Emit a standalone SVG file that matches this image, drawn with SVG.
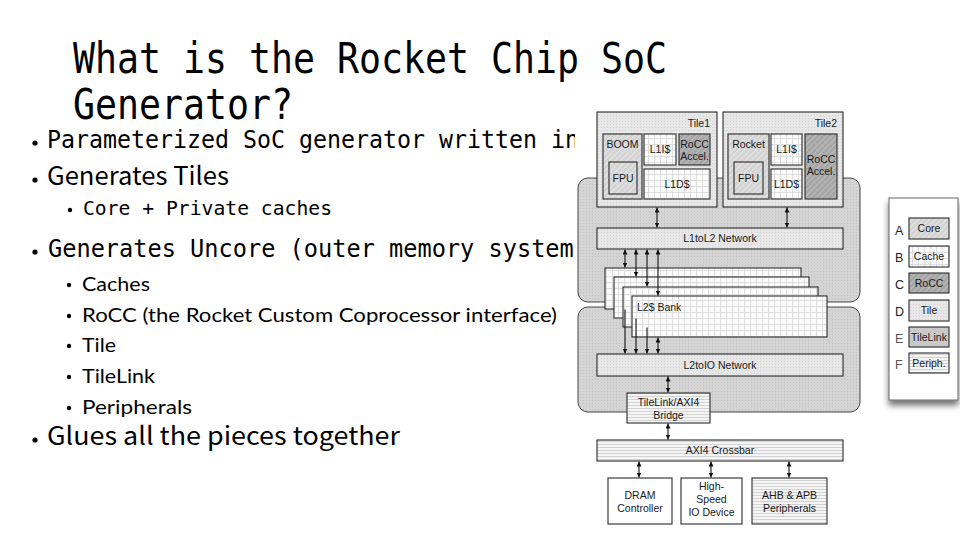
<svg xmlns="http://www.w3.org/2000/svg" width="960" height="540" viewBox="0 0 960 540">
<defs>
<style>
.title{font-family:"DejaVu Sans Mono","Liberation Mono",monospace;font-size:42px;fill:#000}
.mono{font-family:"DejaVu Sans Mono","Liberation Mono",monospace;fill:#000}
.goth{font-family:"Noto Sans CJK JP","Noto Sans",sans-serif;fill:#000}
.cal{font-family:"Lato","Open Sans",sans-serif;font-size:20px;fill:#000}
.dot{fill:#000}
.d{font-family:"Liberation Sans",Arial,sans-serif;font-size:10.5px;fill:#1a1a1a;text-anchor:middle}
.box{stroke:#2a2a2a;stroke-width:1.1}
.conn line{stroke:#111;stroke-width:1.1;fill:none}
.lg{font-family:"Liberation Sans",Arial,sans-serif;font-size:12.5px;fill:#222}
</style>
<pattern id="pCore" width="4" height="4" patternUnits="userSpaceOnUse" patternTransform="rotate(45)"><rect width="4" height="4" fill="#d4d4d4"/><line x1="0" y1="0" x2="0" y2="4" stroke="#efefef" stroke-width="1.4"/></pattern>
<pattern id="pRocc" width="4" height="4" patternUnits="userSpaceOnUse" patternTransform="rotate(45)"><rect width="4" height="4" fill="#a6a6a6"/><line x1="0" y1="0" x2="0" y2="4" stroke="#c8c8c8" stroke-width="1.4"/></pattern>
<pattern id="pCache" width="6" height="6" patternUnits="userSpaceOnUse"><rect width="6" height="6" fill="#fbfbfb"/><path d="M0 0.5H6M0.5 0V6" stroke="#dedede" stroke-width="1"/></pattern>
<pattern id="pTile" width="3" height="3" patternUnits="userSpaceOnUse"><rect width="3" height="3" fill="#e7e7e7"/><rect x="1" y="1" width="1" height="1" fill="#d3d3d3"/></pattern>
<pattern id="pUnc" width="3" height="3" patternUnits="userSpaceOnUse"><rect width="3" height="3" fill="#d4d4d4"/><rect x="1" y="1" width="1" height="1" fill="#c2c2c2"/></pattern>
<pattern id="pStripe" width="3" height="3" patternUnits="userSpaceOnUse"><rect width="3" height="3" fill="#f5f5f5"/><line x1="0" y1="0.5" x2="3" y2="0.5" stroke="#d2d2d2" stroke-width="1"/></pattern>
<marker id="ah" viewBox="0 0 6 6" refX="6" refY="3" markerWidth="5" markerHeight="5" orient="auto-start-reverse" markerUnits="userSpaceOnUse"><path d="M0,0 L6,3 L0,6 z" fill="#111"/></marker>
<filter id="sh" x="-30%" y="-10%" width="160%" height="130%"><feGaussianBlur in="SourceAlpha" stdDeviation="3"/><feOffset dx="0" dy="5"/><feComponentTransfer><feFuncA type="linear" slope="0.55"/></feComponentTransfer><feMerge><feMergeNode/><feMergeNode in="SourceGraphic"/></feMerge></filter>
<clipPath id="leftclip"><rect x="0" y="0" width="575" height="540"/></clipPath>
</defs>
<rect width="960" height="540" fill="#fff"/>

<g id="title">
<text class="title" x="73" y="73" textLength="594" lengthAdjust="spacingAndGlyphs">What is the Rocket Chip SoC</text>
<text class="title" x="73" y="119" textLength="220" lengthAdjust="spacingAndGlyphs">Generator?</text>
</g>

<g id="bullets">
<circle class="dot" cx="35" cy="143" r="2.6"/>
<text class="mono" x="47" y="148" font-size="24.5" textLength="532" lengthAdjust="spacingAndGlyphs" clip-path="url(#leftclip)">Parameterized SoC generator written in</text>
<circle class="dot" cx="35" cy="180" r="2.6"/>
<text class="goth" x="47" y="185" font-size="25" textLength="182" lengthAdjust="spacingAndGlyphs">Generates Tiles</text>
<circle class="dot" cx="70" cy="210" r="2.2"/>
<text class="mono" x="83" y="215" font-size="20" textLength="249" lengthAdjust="spacingAndGlyphs">Core + Private caches</text>
<circle class="dot" cx="35" cy="252" r="2.6"/>
<text class="mono" x="48" y="257" font-size="24.5" textLength="540" lengthAdjust="spacingAndGlyphs" clip-path="url(#leftclip)">Generates Uncore (outer memory system)</text>
<circle class="dot" cx="69" cy="285" r="2.2"/>
<text class="cal" x="82" y="291" textLength="68" lengthAdjust="spacingAndGlyphs">Caches</text>
<circle class="dot" cx="69" cy="316" r="2.2"/>
<text class="cal" x="82" y="322" textLength="475" lengthAdjust="spacingAndGlyphs">RoCC (the Rocket Custom Coprocessor interface)</text>
<circle class="dot" cx="69" cy="346" r="2.2"/>
<text class="cal" x="82" y="352" textLength="34" lengthAdjust="spacingAndGlyphs">Tile</text>
<circle class="dot" cx="69" cy="377" r="2.2"/>
<text class="cal" x="82" y="383" textLength="73" lengthAdjust="spacingAndGlyphs">TileLink</text>
<circle class="dot" cx="69" cy="408" r="2.2"/>
<text class="cal" x="82" y="414" textLength="110" lengthAdjust="spacingAndGlyphs">Peripherals</text>
<circle class="dot" cx="35" cy="440" r="2.6"/>
<text class="goth" x="47" y="445" font-size="25" textLength="353" lengthAdjust="spacingAndGlyphs">Glues all the pieces together</text>
</g>

<rect x="575" y="100" width="298" height="436" fill="#fff"/>

<g id="uncore-upper"><rect x="578" y="178" width="282" height="124" rx="10" fill="url(#pUnc)" stroke="#444" stroke-width="1"/></g>
<g id="uncore-lower"><rect x="578" y="307" width="282" height="105" rx="10" fill="url(#pUnc)" stroke="#444" stroke-width="1"/></g>

<g id="tile1">
<rect class="box" x="597" y="112" width="120" height="95" fill="url(#pTile)"/>
<text class="d" x="710" y="127" style="text-anchor:end" font-size="11">Tile1</text>
<rect class="box" x="603" y="134" width="39" height="65" fill="url(#pCore)"/>
<text class="d" x="622.5" y="148" font-size="9.5">BOOM</text>
<rect class="box" x="609" y="162" width="28" height="32" fill="url(#pCore)"/>
<text class="d" x="623" y="182" font-size="9.5">FPU</text>
<rect class="box" x="644" y="134" width="32" height="31" fill="url(#pCache)"/>
<text class="d" x="660" y="153" font-size="9.5">L1I$</text>
<rect class="box" x="679" y="134" width="31" height="31" fill="url(#pRocc)"/>
<text class="d" x="694.5" y="148" font-size="9.5">RoCC</text>
<text class="d" x="694.5" y="160" font-size="9.5">Accel.</text>
<rect class="box" x="644" y="169" width="66" height="30" fill="url(#pCache)"/>
<text class="d" x="677" y="188" font-size="9.5">L1D$</text>
</g>

<g id="tile2">
<rect class="box" x="723" y="112" width="120" height="95" fill="url(#pTile)"/>
<text class="d" x="837" y="127" style="text-anchor:end" font-size="11">Tile2</text>
<rect class="box" x="728" y="134" width="41" height="65" fill="url(#pCore)"/>
<text class="d" x="748.5" y="148" font-size="9.5">Rocket</text>
<rect class="box" x="734" y="162" width="29" height="32" fill="url(#pCore)"/>
<text class="d" x="748.5" y="182" font-size="9.5">FPU</text>
<rect class="box" x="771" y="134" width="31" height="31" fill="url(#pCache)"/>
<text class="d" x="786.5" y="153" font-size="9.5">L1I$</text>
<rect class="box" x="771" y="169" width="31" height="30" fill="url(#pCache)"/>
<text class="d" x="786.5" y="188" font-size="9.5">L1D$</text>
<rect class="box" x="805" y="134" width="32" height="65" fill="url(#pRocc)"/>
<text class="d" x="821" y="163" font-size="9.5">RoCC</text>
<text class="d" x="821" y="175" font-size="9.5">Accel.</text>
</g>

<g id="l1tol2"><rect class="box" x="597" y="228" width="246" height="21" fill="url(#pTile)"/><text class="d" x="720" y="242" font-size="11">L1toL2 Network</text></g>

<g id="l2banks">
<rect class="box" x="605" y="268" width="196" height="41" fill="url(#pCache)"/>
<rect class="box" x="614" y="277" width="195" height="41" fill="url(#pCache)"/>
<rect class="box" x="623" y="287" width="195" height="40" fill="url(#pCache)"/>
<rect class="box" x="632" y="296" width="195" height="41" fill="url(#pCache)"/>
<text class="d" x="637" y="311" style="text-anchor:start" font-size="11.5">L2$ Bank</text>
</g>

<g id="l2toio"><rect class="box" x="597" y="354" width="246" height="22" fill="url(#pTile)"/><text class="d" x="720" y="369" font-size="11">L2toIO Network</text></g>

<g id="bridge"><rect class="box" x="627" y="393" width="83" height="30" fill="url(#pStripe)"/><text class="d" x="668.5" y="406" font-size="10.5">TileLink/AXI4</text><text class="d" x="668.5" y="419" font-size="10.5">Bridge</text></g>

<g id="crossbar"><rect class="box" x="597" y="440" width="246" height="21" fill="url(#pStripe)"/><text class="d" x="720" y="454" font-size="11">AXI4 Crossbar</text></g>

<g id="dram"><rect class="box" x="608" y="478" width="64" height="46" fill="#fff"/><text class="d" x="640" y="499" font-size="11.5">DRAM</text><text class="d" x="640" y="512" font-size="11.5">Controller</text></g>

<g id="hsio"><rect class="box" x="681" y="478" width="61" height="46" fill="#fff"/><text class="d" x="711.5" y="490" font-size="11.5">High-</text><text class="d" x="711.5" y="503" font-size="11.5">Speed</text><text class="d" x="711.5" y="516" font-size="11.5">IO Device</text></g>

<g id="periph"><rect class="box" x="752" y="478" width="75" height="46" fill="url(#pStripe)"/><text class="d" x="789.5" y="499" font-size="11.5">AHB &amp; APB</text><text class="d" x="789.5" y="512" font-size="11.5">Peripherals</text></g>

<g id="connectors" class="conn">
<line x1="657" y1="207.5" x2="657" y2="227.5" marker-start="url(#ah)" marker-end="url(#ah)"/>
<line x1="787" y1="207.5" x2="787" y2="227.5" marker-start="url(#ah)" marker-end="url(#ah)"/>
<line x1="625" y1="249.5" x2="625" y2="267.5" marker-start="url(#ah)" marker-end="url(#ah)"/>
<line x1="636" y1="249.5" x2="636" y2="276.5" marker-start="url(#ah)" marker-end="url(#ah)"/>
<line x1="647" y1="249.5" x2="647" y2="286.5" marker-start="url(#ah)" marker-end="url(#ah)"/>
<line x1="658" y1="249.5" x2="658" y2="295.5" marker-start="url(#ah)" marker-end="url(#ah)"/>
<line x1="625" y1="309.5" x2="625" y2="353.5" marker-end="url(#ah)"/>
<line x1="636" y1="318.5" x2="636" y2="353.5" marker-end="url(#ah)"/>
<line x1="647" y1="327.5" x2="647" y2="353.5" marker-end="url(#ah)"/>
<line x1="658" y1="337.5" x2="658" y2="353.5" marker-start="url(#ah)" marker-end="url(#ah)"/>
<line x1="668" y1="376.5" x2="668" y2="392.5" marker-start="url(#ah)" marker-end="url(#ah)"/>
<line x1="668" y1="423.5" x2="668" y2="439.5" marker-start="url(#ah)" marker-end="url(#ah)"/>
<line x1="639" y1="461.5" x2="639" y2="477.5" marker-start="url(#ah)" marker-end="url(#ah)"/>
<line x1="711" y1="461.5" x2="711" y2="477.5" marker-start="url(#ah)" marker-end="url(#ah)"/>
<line x1="789" y1="461.5" x2="789" y2="477.5" marker-start="url(#ah)" marker-end="url(#ah)"/>
</g>

<g id="legend">
<rect x="889" y="198" width="69" height="202" fill="#fff" stroke="#666" stroke-width="1" filter="url(#sh)"/>
<text class="lg" x="895" y="235">A</text>
<rect class="box" x="909" y="218" width="40" height="21" fill="url(#pCore)"/>
<text class="d" x="929" y="232" font-size="9.5">Core</text>
<text class="lg" x="895" y="262">B</text>
<rect class="box" x="909" y="246" width="40" height="21" fill="url(#pCache)"/>
<text class="d" x="929" y="260" font-size="9.5">Cache</text>
<text class="lg" x="895" y="289">C</text>
<rect class="box" x="909" y="273" width="40" height="20" fill="url(#pRocc)"/>
<text class="d" x="929" y="287" font-size="9.5">RoCC</text>
<text class="lg" x="895" y="316">D</text>
<rect class="box" x="909" y="300" width="40" height="21" fill="url(#pTile)"/>
<text class="d" x="929" y="314" font-size="9.5">Tile</text>
<text class="lg" x="895" y="343" style="fill:#555">E</text>
<rect class="box" x="909" y="327" width="40" height="20" fill="#c9c9c9"/>
<text class="d" x="929" y="341" font-size="9.5">TileLink</text>
<text class="lg" x="895" y="369" style="fill:#555">F</text>
<rect class="box" x="909" y="353" width="40" height="20" fill="url(#pStripe)"/>
<text class="d" x="929" y="367" font-size="9.5">Periph.</text>
</g>
</svg>
